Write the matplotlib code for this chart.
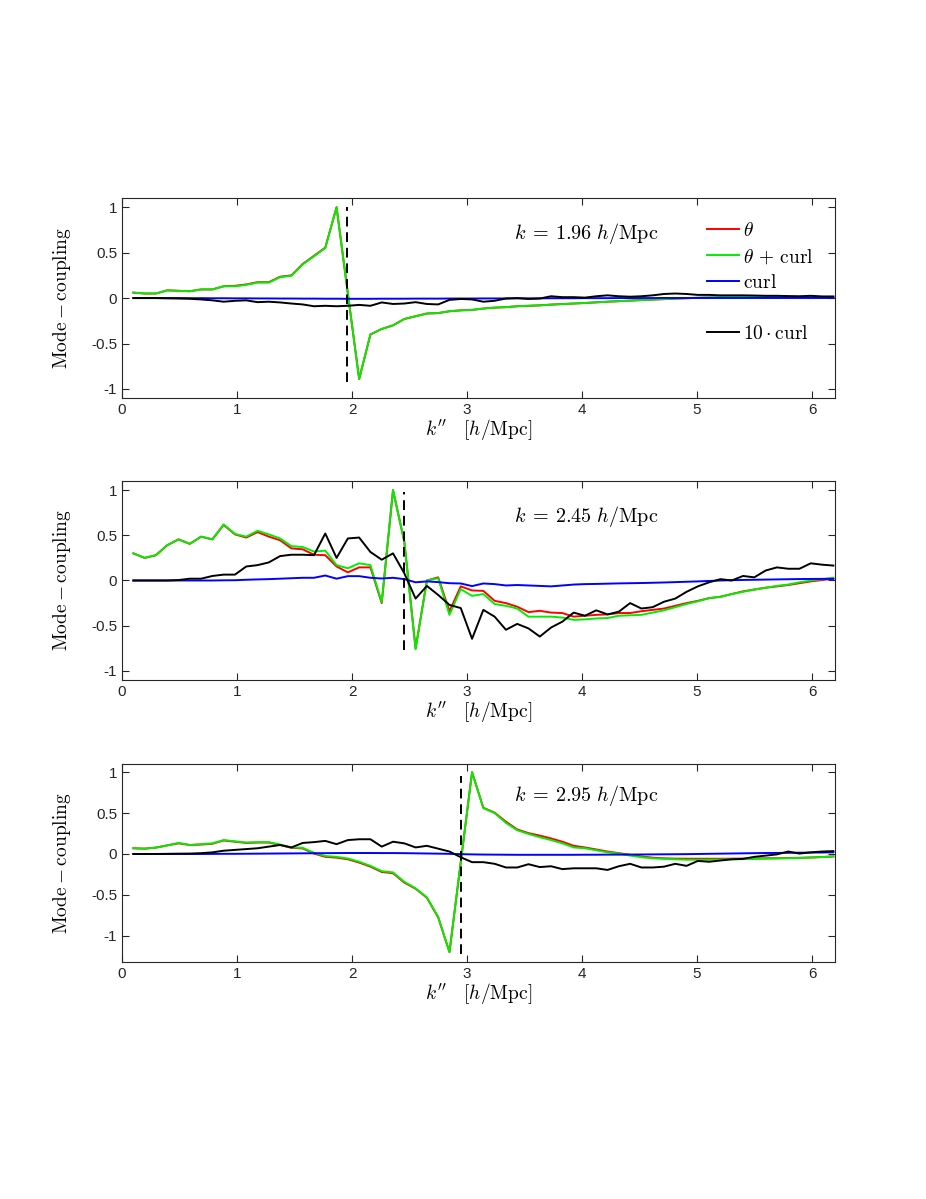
import numpy as np
import matplotlib
matplotlib.use('Agg')
import matplotlib.pyplot as plt
from matplotlib.lines import Line2D

plt.rcParams['mathtext.fontset'] = 'cm'
plt.rcParams['font.family'] = ['Liberation Sans', 'DejaVu Sans']
plt.rcParams['axes.unicode_minus'] = False

# k'' grid: multiples of the fundamental mode 2*pi/64
k2 = np.arange(1, 64) * 2 * np.pi / 64

# panel k values (where the dashed line sits)
k_values = [1.96, 2.45, 2.95]

# ---- panel 1: k = 1.96 ----
theta_1 = [0.06, 0.05, 0.05, 0.085, 0.08, 0.075, 0.095, 0.095, 0.13, 0.135,
           0.15, 0.175, 0.175, 0.235, 0.25, 0.375, 0.465, 0.555, 1.0, 0.05,
           -0.89, -0.40, -0.34, -0.30, -0.23, -0.20, -0.17, -0.165, -0.145, -0.135,
           -0.13, -0.115, -0.105, -0.10, -0.09, -0.085, -0.08, -0.072, -0.066, -0.06,
           -0.054, -0.047, -0.04, -0.034, -0.028, -0.022, -0.017, -0.012, -0.007, -0.002,
           0.003, 0.007, 0.01, 0.012, 0.013, 0.014, 0.014, 0.014, 0.013, 0.012,
           0.011, 0.01, 0.009]
theta_curl_1 = [0.06, 0.05, 0.05, 0.085, 0.08, 0.075, 0.095, 0.095, 0.13, 0.13,
                0.145, 0.17, 0.17, 0.23, 0.245, 0.37, 0.46, 0.55, 1.0, 0.05,
                -0.89, -0.40, -0.34, -0.30, -0.23, -0.20, -0.17, -0.165, -0.145, -0.135,
                -0.13, -0.115, -0.105, -0.10, -0.09, -0.085, -0.08, -0.072, -0.066, -0.06,
                -0.054, -0.047, -0.04, -0.034, -0.028, -0.022, -0.016, -0.011, -0.006, -0.001,
                0.004, 0.008, 0.011, 0.013, 0.014, 0.015, 0.015, 0.015, 0.014, 0.013,
                0.012, 0.011, 0.01]
curl_1 = [0, 0, 0, 0, 0, -0.001, -0.001, -0.002, -0.002, -0.003,
          -0.003, -0.004, -0.004, -0.005, -0.005, -0.006, -0.006, -0.007, -0.007, -0.008,
          -0.008, -0.008, -0.007, -0.007, -0.007, -0.006, -0.006, -0.006, -0.005, -0.005,
          -0.005, -0.004, -0.004, -0.004, -0.003, -0.003, -0.003, -0.002, -0.002, -0.002,
          -0.001, -0.001, -0.001, 0, 0, 0, 0, 0.001, 0.001, 0.001,
          0.001, 0.001, 0.001, 0.001, 0.001, 0.001, 0.001, 0.001, 0.001, 0.001,
          0.001, 0.001, 0.001]
curl10_1 = [0, 0, 0, -0.003, -0.005, -0.008, -0.015, -0.025, -0.04, -0.03,
            -0.025, -0.045, -0.04, -0.048, -0.06, -0.07, -0.09, -0.085, -0.09, -0.085,
            -0.075, -0.085, -0.048, -0.065, -0.06, -0.045, -0.065, -0.07, -0.02, -0.01,
            -0.015, -0.04, -0.03, -0.005, 0.0, -0.01, -0.005, 0.02, 0.01, 0.01,
            0.005, 0.02, 0.03, 0.02, 0.015, 0.02, 0.03, 0.045, 0.05, 0.045,
            0.035, 0.035, 0.03, 0.03, 0.03, 0.028, 0.025, 0.025, 0.022, 0.02,
            0.025, 0.018, 0.018]

# ---- panel 2: k = 2.45 ----
theta_2 = [0.30, 0.25, 0.28, 0.39, 0.455, 0.405, 0.485, 0.455, 0.615, 0.51,
           0.475, 0.535, 0.485, 0.445, 0.355, 0.345, 0.285, 0.28, 0.155, 0.09,
           0.145, 0.145, -0.25, 1.0, 0.43, -0.75, 0.0, 0.035, -0.34, -0.065,
           -0.11, -0.115, -0.225, -0.25, -0.29, -0.35, -0.335, -0.355, -0.36, -0.40,
           -0.39, -0.38, -0.375, -0.36, -0.36, -0.34, -0.325, -0.31, -0.28, -0.25,
           -0.225, -0.195, -0.18, -0.15, -0.12, -0.10, -0.08, -0.065, -0.05, -0.03,
           -0.01, 0.005, 0.02]
theta_curl_2 = [0.30, 0.25, 0.28, 0.39, 0.455, 0.405, 0.485, 0.455, 0.62, 0.515,
                0.485, 0.55, 0.51, 0.465, 0.38, 0.37, 0.32, 0.33, 0.17, 0.135,
                0.19, 0.17, -0.24, 1.0, 0.43, -0.76, 0.0, 0.025, -0.38, -0.095,
                -0.17, -0.15, -0.26, -0.28, -0.31, -0.40, -0.40, -0.40, -0.41, -0.435,
                -0.43, -0.42, -0.415, -0.39, -0.385, -0.38, -0.355, -0.33, -0.295, -0.26,
                -0.23, -0.195, -0.18, -0.15, -0.125, -0.10, -0.08, -0.06, -0.045, -0.02,
                0.0, 0.015, 0.03]
curl_2 = [0, 0, 0, 0, 0, 0, 0, 0, 0.002, 0.003,
          0.008, 0.012, 0.015, 0.02, 0.025, 0.03, 0.03, 0.055, 0.02, 0.048,
          0.048, 0.03, 0.022, 0.03, 0.015, -0.02, -0.01, -0.018, -0.03, -0.033,
          -0.062, -0.033, -0.04, -0.055, -0.05, -0.055, -0.06, -0.065, -0.055, -0.045,
          -0.04, -0.038, -0.035, -0.032, -0.03, -0.028, -0.025, -0.022, -0.018, -0.014,
          -0.01, -0.005, 0.0, 0.003, 0.006, 0.008, 0.01, 0.012, 0.014, 0.016,
          0.017, 0.018, 0.018]
curl10_2 = [0, 0, 0, 0, 0.005, 0.02, 0.02, 0.05, 0.065, 0.065,
            0.155, 0.17, 0.20, 0.27, 0.285, 0.285, 0.28, 0.52, 0.25, 0.465,
            0.475, 0.315, 0.23, 0.30, 0.08, -0.20, -0.06, -0.16, -0.27, -0.305,
            -0.645, -0.325, -0.40, -0.545, -0.48, -0.53, -0.62, -0.52, -0.455, -0.355,
            -0.39, -0.33, -0.375, -0.345, -0.25, -0.31, -0.295, -0.235, -0.20, -0.125,
            -0.065, -0.02, 0.015, 0.0, 0.05, 0.035, 0.11, 0.145, 0.13, 0.13,
            0.19, 0.175, 0.165]

# ---- panel 3: k = 2.95 ----
theta_3 = [0.07, 0.065, 0.078, 0.105, 0.13, 0.11, 0.115, 0.125, 0.165, 0.15,
           0.135, 0.14, 0.14, 0.11, 0.075, 0.068, 0.005, -0.035, -0.045, -0.065,
           -0.105, -0.155, -0.22, -0.235, -0.35, -0.425, -0.535, -0.775, -1.20, -0.1,
           1.0, 0.565, 0.505, 0.395, 0.30, 0.255, 0.225, 0.19, 0.15, 0.10,
           0.08, 0.055, 0.03, 0.01, -0.01, -0.03, -0.045, -0.053, -0.057, -0.058,
           -0.058, -0.058, -0.058, -0.057, -0.056, -0.055, -0.053, -0.052, -0.05, -0.047,
           -0.043, -0.037, -0.03]
theta_curl_3 = [0.07, 0.065, 0.078, 0.105, 0.135, 0.11, 0.12, 0.13, 0.17, 0.155,
                0.14, 0.145, 0.145, 0.115, 0.08, 0.075, 0.015, -0.025, -0.035, -0.055,
                -0.095, -0.145, -0.21, -0.225, -0.34, -0.42, -0.53, -0.77, -1.20, -0.1,
                1.0, 0.56, 0.50, 0.38, 0.29, 0.245, 0.205, 0.17, 0.13, 0.08,
                0.07, 0.045, 0.02, 0.005, -0.02, -0.04, -0.053, -0.06, -0.065, -0.07,
                -0.07, -0.07, -0.068, -0.065, -0.063, -0.06, -0.057, -0.055, -0.052, -0.048,
                -0.044, -0.038, -0.03]
curl_3 = [0, 0, 0, 0, 0, 0, 0, 0.001, 0.002, 0.002,
          0.003, 0.004, 0.005, 0.006, 0.007, 0.008, 0.009, 0.01, 0.011, 0.012,
          0.012, 0.012, 0.011, 0.011, 0.01, 0.008, 0.006, 0.004, 0.002, -0.002,
          -0.005, -0.007, -0.008, -0.009, -0.01, -0.01, -0.01, -0.01, -0.01, -0.01,
          -0.009, -0.009, -0.008, -0.008, -0.007, -0.006, -0.005, -0.004, -0.003, -0.002,
          0.0, 0.002, 0.004, 0.006, 0.008, 0.01, 0.012, 0.013, 0.014, 0.016,
          0.017, 0.018, 0.02]
curl10_3 = [0, 0, 0, 0.002, 0.004, 0.005, 0.01, 0.02, 0.04, 0.05,
            0.06, 0.07, 0.09, 0.11, 0.08, 0.135, 0.145, 0.16, 0.12, 0.17,
            0.18, 0.18, 0.09, 0.15, 0.13, 0.08, 0.10, 0.065, 0.03, -0.04,
            -0.10, -0.10, -0.12, -0.165, -0.165, -0.125, -0.16, -0.15, -0.185, -0.175,
            -0.175, -0.175, -0.195, -0.15, -0.12, -0.165, -0.165, -0.155, -0.12, -0.145,
            -0.085, -0.095, -0.08, -0.065, -0.06, -0.035, -0.02, -0.005, 0.03, 0.005,
            0.02, 0.03, 0.035]

panels = [
    (theta_1, theta_curl_1, curl_1, curl10_1),
    (theta_2, theta_curl_2, curl_2, curl10_2),
    (theta_3, theta_curl_3, curl_3, curl10_3),
]
ylims = [(-1.1, 1.1), (-1.1, 1.1), (-1.32, 1.1)]
dash_spans = [(-0.92, 1.0), (-0.77, 0.98), (-1.22, 0.95)]

fig = plt.figure(figsize=(9.26, 11.99), dpi=100)
axes_rects = [[0.1318, 0.668, 0.770, 0.1668],
              [0.1318, 0.4329, 0.770, 0.1659],
              [0.1318, 0.1977, 0.770, 0.1651]]

spine_col = '#262626'
lw = 1.4

for i, (th, thc, cu, cu10) in enumerate(panels):
    ax = fig.add_axes(axes_rects[i])
    l1, = ax.plot(k2, th, color='red', lw=lw)
    l2, = ax.plot(k2, thc, color='#00ee00', lw=lw)
    l3, = ax.plot(k2, cu, color='blue', lw=lw)
    l4, = ax.plot(k2, cu10, color='black', lw=lw)
    ax.plot([k_values[i], k_values[i]], dash_spans[i], color='black', lw=lw,
            linestyle=(0, (5, 3)))

    ax.set_xlim(0, 6.2)
    ax.set_ylim(*ylims[i])
    ax.set_xticks([0, 1, 2, 3, 4, 5, 6])
    ax.set_yticks([-1, -0.5, 0, 0.5, 1])
    ax.set_yticklabels(['-1', '-0.5', '0', '0.5', '1'])
    ax.tick_params(direction='in', top=True, right=True, length=5,
                   labelsize=11, color=spine_col, labelcolor=spine_col, width=0.8)
    for s in ax.spines.values():
        s.set_color(spine_col)
        s.set_linewidth(0.8)

    ax.set_ylabel(r'$\mathrm{Mode-coupling}$', fontsize=14, labelpad=13)
    ax.set_xlabel(r"$k''\ \ \ [h/\mathrm{Mpc}]$", fontsize=14, labelpad=0)
    ax.text(3.41, 0.71, r'$k\;=\,%.2f\ h/\mathrm{Mpc}$' % k_values[i],
            fontsize=14.5, va='center', ha='left')

    if i == 0:
        blank = Line2D([], [], color='none')
        leg = ax.legend([l1, l2, l3, blank, l4],
                        [r'$\theta$', r'$\theta\,+\,\mathrm{curl}$', r'$\mathrm{curl}$',
                         r'$\mathrm{curl}$', r'$10\cdot\mathrm{curl}$'],
                        loc='upper left', bbox_to_anchor=(0.809, 0.92), frameon=False,
                        fontsize=14, handlelength=1.65, handletextpad=0.22,
                        labelspacing=0.39, borderaxespad=0)
        leg.get_texts()[3].set_alpha(0)

fig.savefig('out.png', dpi=100)
